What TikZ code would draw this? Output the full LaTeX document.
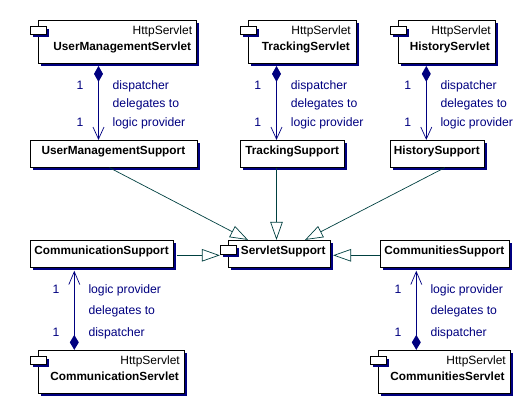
\documentclass[tikz,border=0pt]{standalone}
\usepackage{fontspec}
\setmainfont{Liberation Sans}
\usetikzlibrary{arrows.meta,shadows}
\definecolor{umlnavy}{RGB}{0,0,128}
\definecolor{umlteal}{RGB}{0,64,64}
\tikzset{
  boxbase/.style={draw=black,line width=0.8pt,fill=white,inner sep=0pt,rectangle,
    drop shadow={shadow xshift=2.6pt,shadow yshift=-2.6pt,fill=umlnavy,opacity=1}},
  tabbox/.style={boxbase,minimum width=16.6pt,minimum height=8.4pt},
  nametext/.style={font=\fontsize{11.8}{14}\selectfont\bfseries,text=black,inner sep=0pt},
  nameright/.style={nametext,anchor=base east},
  namecentre/.style={nametext,anchor=base},
  stereo/.style={font=\fontsize{12}{14}\selectfont,text=black,inner sep=0pt,anchor=base east},
  assoctext/.style={font=\fontsize{12.2}{14}\selectfont,text=umlnavy,inner sep=0pt,anchor=base west},
  multtext/.style={font=\fontsize{12.2}{14}\selectfont,text=umlnavy,inner sep=0pt,anchor=base},
  assocdown/.style={draw=umlnavy,line width=0.9pt,
    {Diamond[length=16pt,width=9pt,fill=umlnavy,line width=0pt]}-{Straight Barb[length=12pt,width=11pt,line width=0.7pt]},shorten <=2.5pt},
  assocup/.style={draw=umlnavy,line width=0.9pt,
    {Straight Barb[length=13pt,width=11pt,line width=0.7pt]}-{Diamond[length=15pt,width=9pt,fill=umlnavy,line width=0pt]},shorten <=3pt},
  general/.style={draw=umlteal,line width=0.7pt,
    -{Triangle[open,length=18pt,width=12.5pt,fill=white,line width=0.7pt]}},
}
\begin{document}
\begin{tikzpicture}[x=1pt,y=-1pt]
\useasboundingbox (0,0) rectangle (528,407);
% servlet boxes
\node[boxbase,minimum width=158pt,minimum height=43pt] (ums) at (117,41.5) {};
\node[tabbox] (umst) at (38.3,30.3) {};
\node[boxbase,minimum width=108pt,minimum height=43pt] (trs) at (302,41.5) {};
\node[tabbox] (trst) at (248.3,30.3) {};
\node[boxbase,minimum width=97.6pt,minimum height=43pt] (his) at (446.8,41.5) {};
\node[tabbox] (hist) at (398.5,30.3) {};
\node[boxbase,minimum width=146.7pt,minimum height=43pt] (cos) at (111.3,371.8) {};
\node[tabbox] (cost) at (38.3,360.3) {};
\node[boxbase,minimum width=132.4pt,minimum height=43pt] (cms) at (444.5,371.8) {};
\node[tabbox] (cmst) at (378.5,360.3) {};
% support boxes
\node[boxbase,minimum width=167pt,minimum height=27pt] (umh) at (113.5,153.8) {};
\node[boxbase,minimum width=104.7pt,minimum height=27pt] (trh) at (292.3,153.8) {};
\node[boxbase,minimum width=94.7pt,minimum height=27pt] (hih) at (437.3,153.8) {};
\node[boxbase,minimum width=143.7pt,minimum height=27pt] (coh) at (101.8,253.8) {};
\node[boxbase,minimum width=129.4pt,minimum height=27pt] (cmh) at (445,253.8) {};
\node[boxbase,minimum width=102.4pt,minimum height=27pt] (sup) at (279.5,253.8) {};
\node[tabbox] (supt) at (228.5,250) {};
% box texts
\node[stereo] (umsa) at (192.3,34.3) {HttpServlet};
\node[nameright] (umsb) at (191.3,50) {UserManagementServlet};
\node[stereo] (trsa) at (351,34.3) {HttpServlet};
\node[nameright] (trsb) at (350,50) {TrackingServlet};
\node[stereo] (hisa) at (491,34.3) {HttpServlet};
\node[nameright] (hisb) at (490,50) {HistoryServlet};
\node[stereo] (cosa) at (180,364.3) {HttpServlet};
\node[nameright] (cosb) at (179,380) {CommunicationServlet};
\node[stereo] (cmsa) at (506,364.3) {HttpServlet};
\node[nameright] (cmsb) at (504.7,380) {CommunitiesServlet};
\node[namecentre] (umhn) at (113.4,154.3) {UserManagementSupport};
\node[namecentre] (trhn) at (292.2,154.3) {TrackingSupport};
\node[namecentre] (hihn) at (436.8,154.3) {HistorySupport};
\node[namecentre] (cohn) at (101.5,254.3) {CommunicationSupport};
\node[namecentre] (cmhn) at (444.3,254.3) {CommunitiesSupport};
\node[namecentre] (supn) at (283.2,254.3) {ServletSupport};
% associations
\draw[assocdown] ([xshift=-18.5pt]ums.south) -- ([xshift=-15pt]umh.north);
\draw[assocdown] ([xshift=-25.5pt]trs.south) -- ([xshift=-15.8pt]trh.north);
\draw[assocdown] ([xshift=-20.5pt]his.south) -- ([xshift=-11pt]hih.north);
\draw[assocup] ([xshift=-27.5pt]coh.south) -- ([xshift=-37pt]cos.north);
\draw[assocup] ([xshift=-28.7pt]cmh.south) -- ([xshift=-28.2pt]cms.north);
% generalisations
\draw[general] ([xshift=-4pt]umh.south) -- ([xshift=-31.5pt]sup.north);
\draw[general] ([xshift=-15.8pt]trh.south) -- ([xshift=-3pt]sup.north);
\draw[general] ([xshift=7.4pt]hih.south) -- ([xshift=25.5pt]sup.north);
\draw[general] ([xshift=2.5pt,yshift=-1.5pt]coh.east) -- ([yshift=-5.3pt]supt.west);
\draw[general] ([yshift=-1.5pt]cmh.west) -- ([xshift=2pt,yshift=-1.5pt]sup.east);
% labels
\node[multtext] (l1a) at (80,89.3) {1};
\node[multtext] (l1b) at (80,126) {1};
\node[assoctext] (l1c) at (112.5,89.3) {dispatcher};
\node[assoctext] (l1d) at (112.5,107.3) {delegates to};
\node[assoctext] (l1e) at (112.5,126) {logic provider};
\node[multtext] (l2a) at (257.7,89.3) {1};
\node[multtext] (l2b) at (257.7,126) {1};
\node[assoctext] (l2c) at (290.7,89.3) {dispatcher};
\node[assoctext] (l2d) at (290.7,107.3) {delegates to};
\node[assoctext] (l2e) at (290.7,126) {logic provider};
\node[multtext] (l3a) at (407.7,89.3) {1};
\node[multtext] (l3b) at (407.7,126) {1};
\node[assoctext] (l3c) at (440.3,89.3) {dispatcher};
\node[assoctext] (l3d) at (440.3,107.3) {delegates to};
\node[assoctext] (l3e) at (440.3,126) {logic provider};
\node[multtext] (l4a) at (56,293.3) {1};
\node[multtext] (l4b) at (56,336) {1};
\node[assoctext] (l4c) at (88.3,293.3) {logic provider};
\node[assoctext] (l4d) at (88.3,314.3) {delegates to};
\node[assoctext] (l4e) at (88.3,336) {dispatcher};
\node[multtext] (l5a) at (398,293.3) {1};
\node[multtext] (l5b) at (398,336) {1};
\node[assoctext] (l5c) at (430.3,293.3) {logic provider};
\node[assoctext] (l5d) at (430.3,314.3) {delegates to};
\node[assoctext] (l5e) at (430.3,336) {dispatcher};
\end{tikzpicture}
\end{document}
